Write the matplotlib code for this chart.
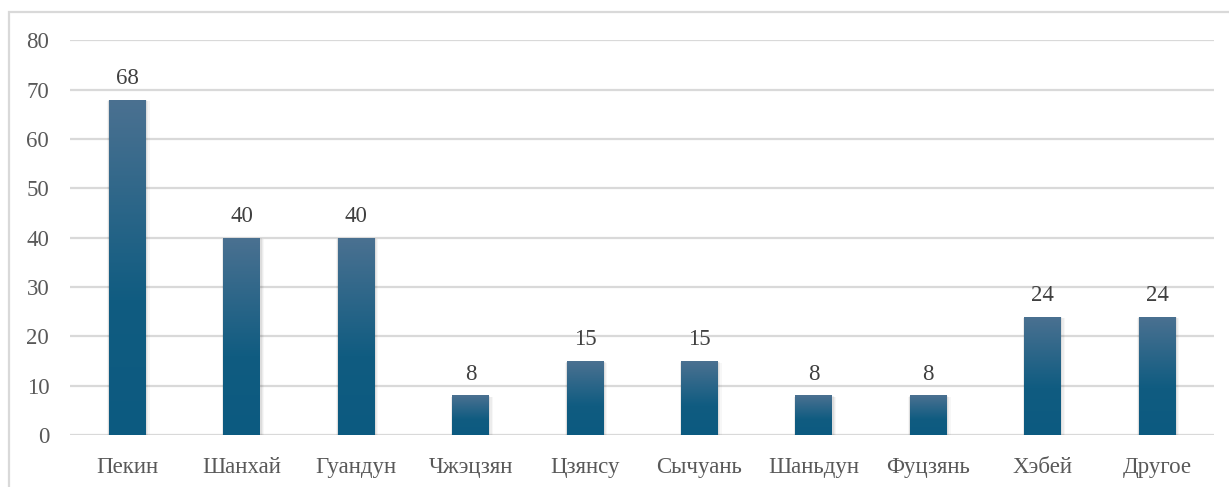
import numpy as np
import matplotlib.pyplot as plt
import matplotlib as mpl
from matplotlib.patches import Rectangle
from matplotlib.colors import LinearSegmentedColormap

# --- Data ---
regions = ['Пекин', 'Шанхай', 'Гуандун', 'Чжэцзян', 'Цзянсу',
           'Сычуань', 'Шаньдун', 'Фуцзянь', 'Хэбей', 'Другое']
values = [68, 40, 40, 8, 15, 15, 8, 8, 24, 24]
y_ticks = [0, 10, 20, 30, 40, 50, 60, 70, 80]

# --- Style ---
mpl.rcParams['font.family'] = ['Liberation Serif', 'DejaVu Serif']
text_color = '#595959'
grid_color = '#d9d9d9'

fig = plt.figure(figsize=(12.29, 4.87), dpi=100)
ax = fig.add_axes([0.057, 0.107, 0.931, 0.81])

x = np.arange(len(regions))
bar_w = 0.32

# vertical gradient, light at top, dark at bottom
grad_cmap = LinearSegmentedColormap.from_list(
    'bar', [(0.0, '#0c5a80'), (0.4, '#105c81'), (1.0, '#4b7191')])
grad = np.linspace(0, 1, 256).reshape(-1, 1)

for xi, v in zip(x, values):
    left = xi - bar_w / 2
    # soft drop shadow
    for k, a in enumerate([0.06, 0.045, 0.03]):
        dx = 0.012 + k * 0.01
        dy = 0.25 + k * 0.2
        ax.add_patch(Rectangle((left - dx * 0.4, -dy), bar_w + dx * 1.5, v + dy * 0.5,
                               facecolor='black', edgecolor='none', alpha=a, zorder=2))
    rect = Rectangle((left, 0), bar_w, v, facecolor='none', edgecolor='none', zorder=3)
    ax.add_patch(rect)
    im = ax.imshow(grad, cmap=grad_cmap, aspect='auto', origin='lower',
                   extent=(left, left + bar_w, 0, v), zorder=3, interpolation='bilinear')
    im.set_clip_path(rect)
    ax.text(xi, v + 2.2, str(v), ha='center', va='bottom', fontsize=16.5, color='#404040', zorder=4)

ax.set_xlim(-0.5, len(regions) - 0.5)
ax.set_ylim(0, 80)
ax.set_yticks(y_ticks)
ax.set_xticks(x)
ax.set_xticklabels(regions)
ax.yaxis.grid(True, color=grid_color, linewidth=1.6)
ax.set_axisbelow(True)
for s in ['top', 'right', 'left', 'bottom']:
    ax.spines[s].set_visible(False)
ax.tick_params(axis='both', length=0, labelsize=16.5, colors=text_color)
ax.tick_params(axis='y', pad=15)
ax.tick_params(axis='x', pad=16)

# outer frame of the chart area
fig.add_artist(Rectangle((0.0075, -0.1), 1.1, 1.075, transform=fig.transFigure,
                         facecolor='none', edgecolor='#d9d9d9', linewidth=1.6))

fig.savefig('out.png', dpi=100)
